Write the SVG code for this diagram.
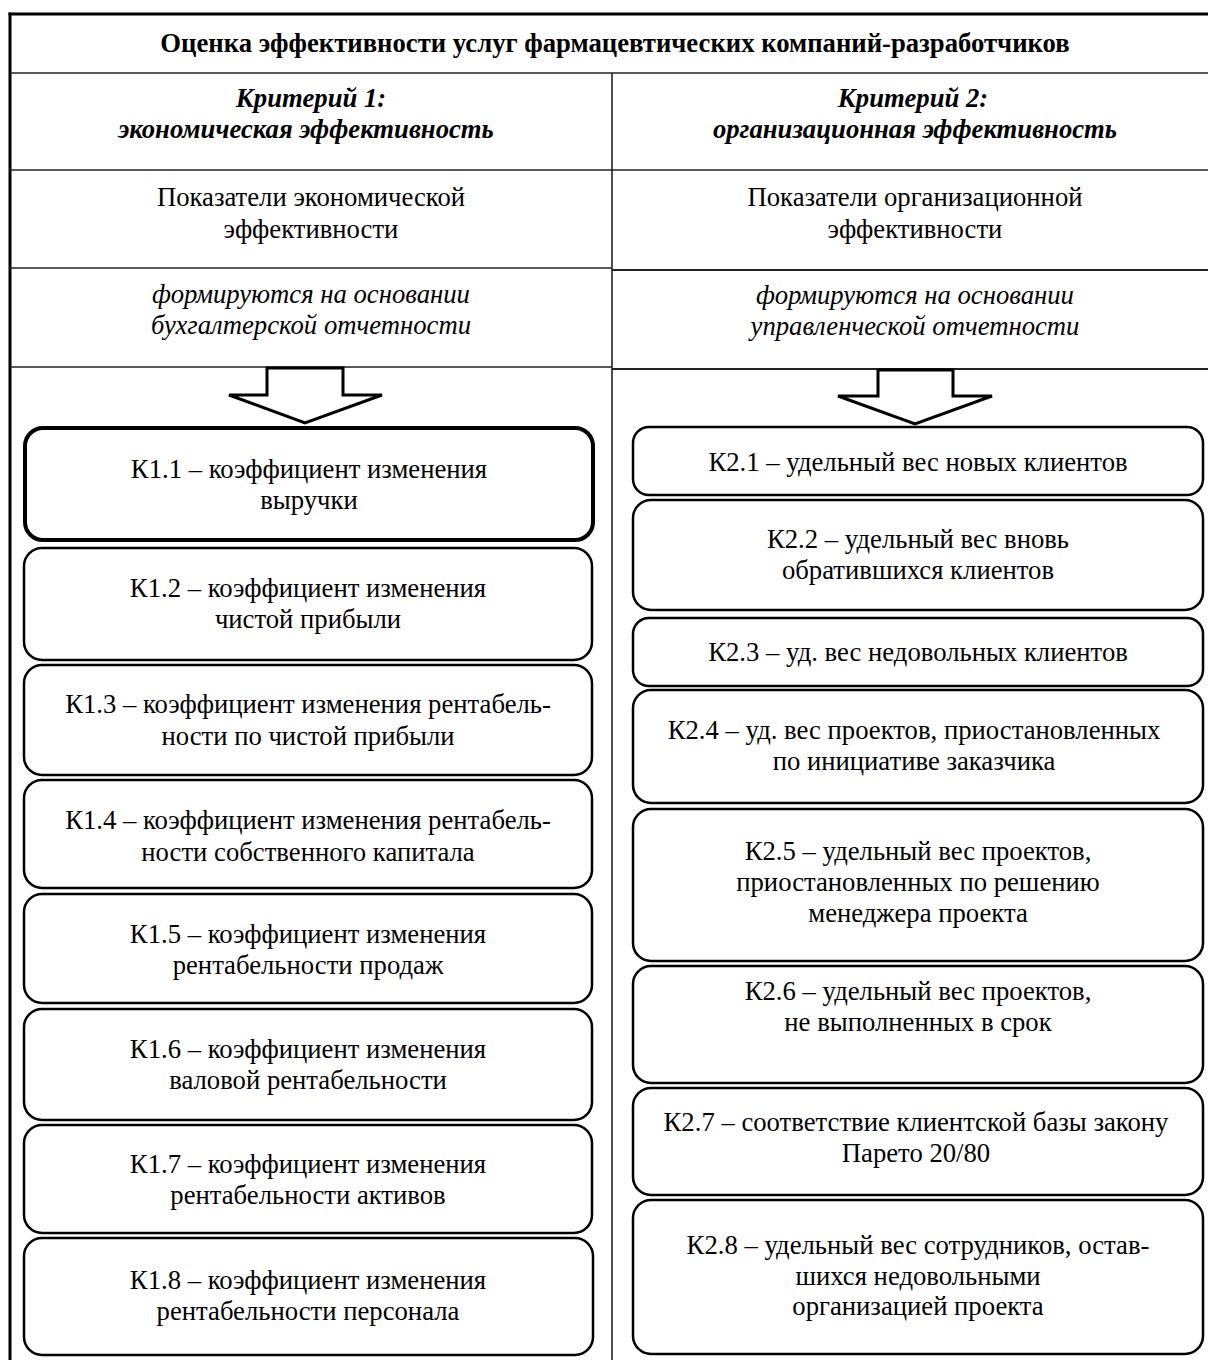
<svg xmlns="http://www.w3.org/2000/svg" width="1208" height="1360" viewBox="0 0 1208 1360">
<style>
  .t{font-family:"Liberation Serif","Times New Roman",serif;font-size:26.7px;fill:#000;text-anchor:middle}
  .b{font-weight:bold}
  .i{font-style:italic}
  .bi{font-weight:bold;font-style:italic}
  .frame{stroke:#000;stroke-width:3;fill:none}
  .grid{stroke:#222;stroke-width:1.6;fill:none}
  .box{fill:#fff;stroke:#000;stroke-width:2.5}
  .box1{fill:#fff;stroke:#000;stroke-width:4}
  .arrow{fill:#fff;stroke:#000;stroke-width:3;stroke-linejoin:miter}
</style>
<rect x="0" y="0" width="1208" height="1360" fill="#fff"/>
<g id="table">
  <line class="frame" x1="8.5" y1="14" x2="1208" y2="14"/>
  <line class="frame" x1="10" y1="12.5" x2="10" y2="1360"/>
  <line class="grid" x1="10" y1="73" x2="1208" y2="73"/>
  <line class="grid" x1="612" y1="73" x2="612" y2="1360"/>
  <line class="grid" x1="10" y1="170" x2="1208" y2="170"/>
  <line class="grid" x1="10" y1="268" x2="612" y2="268"/>
  <line class="grid" x1="612" y1="270" x2="1208" y2="270" style="stroke-width:2"/>
  <line class="grid" x1="10" y1="367" x2="612" y2="367"/>
  <line class="grid" x1="612" y1="369" x2="1208" y2="369" style="stroke-width:2"/>
</g>
<g id="title">
  <text class="t b" x="615" y="52">Оценка эффективности услуг фармацевтических компаний-разработчиков</text>
</g>
<g id="crit1">
  <text class="t bi" x="311" y="107">Критерий 1:</text>
  <text class="t bi" x="306" y="138">экономическая эффективность</text>
</g>
<g id="crit2">
  <text class="t bi" x="913" y="107">Критерий 2:</text>
  <text class="t bi" x="915" y="138">организационная эффективность</text>
</g>
<g id="ind1">
  <text class="t" x="311" y="206">Показатели экономической</text>
  <text class="t" x="311" y="238">эффективности</text>
</g>
<g id="ind2">
  <text class="t" x="915" y="206">Показатели организационной</text>
  <text class="t" x="915" y="238">эффективности</text>
</g>
<g id="src1">
  <text class="t i" x="311" y="303">формируются на основании</text>
  <text class="t i" x="311" y="334">бухгалтерской отчетности</text>
</g>
<g id="src2">
  <text class="t i" x="915" y="304">формируются на основании</text>
  <text class="t i" x="915" y="335">управленческой отчетности</text>
</g>
<g id="connectors">
  <polygon class="arrow" points="267,368 343,368 343,395 382,395 305,423 229,395 267,395"/>
  <polygon class="arrow" points="878,370 953,370 953,396 992,396 915,424 838,396 878,396"/>
</g>
<g id="K1.1">
  <rect class="box1" x="25" y="428" width="568" height="112" rx="18"/>
  <text class="t" x="309" y="478">К1.1 – коэффициент изменения</text>
  <text class="t" x="309" y="509">выручки</text>
</g>
<g id="K1.2">
  <rect class="box" x="24" y="548" width="568" height="112" rx="18"/>
  <text class="t" x="308" y="597">К1.2 – коэффициент изменения</text>
  <text class="t" x="308" y="628">чистой прибыли</text>
</g>
<g id="K1.3">
  <rect class="box" x="24" y="665" width="568" height="110" rx="18"/>
  <text class="t" x="308" y="713">К1.3 – коэффициент изменения рентабель-</text>
  <text class="t" x="308" y="745">ности по чистой прибыли</text>
</g>
<g id="K1.4">
  <rect class="box" x="24" y="780" width="568" height="108" rx="18"/>
  <text class="t" x="308" y="829">К1.4 – коэффициент изменения рентабель-</text>
  <text class="t" x="308" y="861">ности собственного капитала</text>
</g>
<g id="K1.5">
  <rect class="box" x="24" y="894" width="568" height="109" rx="18"/>
  <text class="t" x="308" y="943">К1.5 – коэффициент изменения</text>
  <text class="t" x="308" y="974">рентабельности продаж</text>
</g>
<g id="K1.6">
  <rect class="box" x="24" y="1009" width="568" height="111" rx="18"/>
  <text class="t" x="308" y="1058">К1.6 – коэффициент изменения</text>
  <text class="t" x="308" y="1089">валовой рентабельности</text>
</g>
<g id="K1.7">
  <rect class="box" x="24" y="1125" width="568" height="108" rx="18"/>
  <text class="t" x="308" y="1173">К1.7 – коэффициент изменения</text>
  <text class="t" x="308" y="1204">рентабельности активов</text>
</g>
<g id="K1.8">
  <rect class="box" x="24" y="1238" width="569" height="117" rx="18"/>
  <text class="t" x="308" y="1289">К1.8 – коэффициент изменения</text>
  <text class="t" x="308" y="1320">рентабельности персонала</text>
</g>
<g id="K2.1">
  <rect class="box" x="633" y="427" width="570" height="68" rx="16"/>
  <text class="t" x="918" y="471">К2.1 – удельный вес новых клиентов</text>
</g>
<g id="K2.2">
  <rect class="box" x="633" y="500" width="570" height="110" rx="18"/>
  <text class="t" x="918" y="548">К2.2 – удельный вес вновь</text>
  <text class="t" x="918" y="579">обратившихся клиентов</text>
</g>
<g id="K2.3">
  <rect class="box" x="633" y="618" width="570" height="68" rx="16"/>
  <text class="t" x="918" y="661">К2.3 – уд. вес недовольных клиентов</text>
</g>
<g id="K2.4">
  <rect class="box" x="633" y="690" width="570" height="113" rx="18"/>
  <text class="t" x="914" y="739">К2.4 – уд. вес проектов, приостановленных</text>
  <text class="t" x="914" y="770">по инициативе заказчика</text>
</g>
<g id="K2.5">
  <rect class="box" x="633" y="809" width="570" height="152" rx="18"/>
  <text class="t" x="918" y="860">К2.5 – удельный вес проектов,</text>
  <text class="t" x="918" y="891">приостановленных по решению</text>
  <text class="t" x="918" y="922">менеджера проекта</text>
</g>
<g id="K2.6">
  <rect class="box" x="633" y="966" width="570" height="117" rx="18"/>
  <text class="t" x="918" y="1000">К2.6 – удельный вес проектов,</text>
  <text class="t" x="918" y="1031">не выполненных в срок</text>
</g>
<g id="K2.7">
  <rect class="box" x="633" y="1088" width="570" height="107" rx="18"/>
  <text class="t" x="916" y="1131">К2.7 – соответствие клиентской базы закону</text>
  <text class="t" x="916" y="1162">Парето 20/80</text>
</g>
<g id="K2.8">
  <rect class="box" x="633" y="1200" width="570" height="154" rx="18"/>
  <text class="t" x="918" y="1254">К2.8 – удельный вес сотрудников, остав-</text>
  <text class="t" x="918" y="1285">шихся недовольными</text>
  <text class="t" x="918" y="1315">организацией проекта</text>
</g>
</svg>
